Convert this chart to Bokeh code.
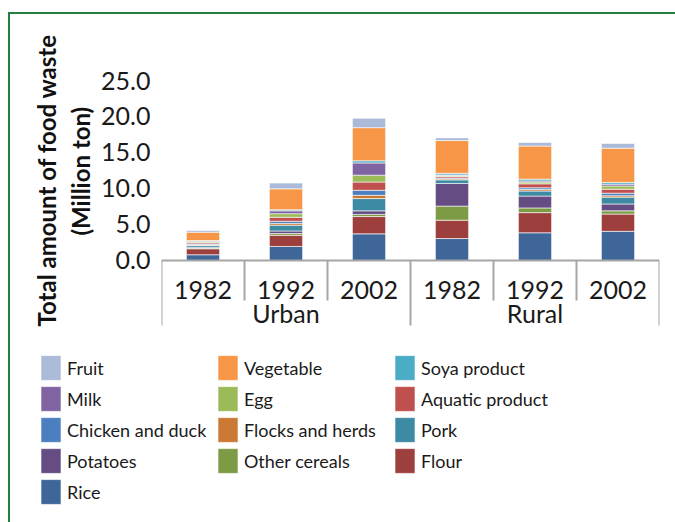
from bokeh.plotting import figure
from bokeh.models import (FactorRange, Range1d, FixedTicker, Legend, LegendItem,
                          ColumnDataSource, PrintfTickFormatter, Span, Title)
from bokeh.core.properties import value
from bokeh.embed import file_html
from bokeh.resources import INLINE

# ---------------- data ----------------
groups = ["Urban", "Rural"]
years = ["1982", "1992", "2002"]
factors = [(g, y) for g in groups for y in years]

# stack order bottom -> top
series = ["Rice", "Flour", "Other cereals", "Potatoes", "Pork", "Flocks and herds",
          "Chicken and duck", "Aquatic product", "Egg", "Milk", "Soya product",
          "Vegetable", "Fruit"]

rice          = [0.80, 1.95, 3.70, 3.05, 3.85, 4.05]
flour         = [0.83, 1.55, 2.40, 2.55, 2.80, 2.40]
other_cereals = [0.10, 0.25, 0.30, 1.95, 0.65, 0.45]
potatoes      = [0.12, 0.35, 0.50, 3.15, 1.65, 0.95]
pork          = [0.25, 0.80, 1.70, 0.50, 0.70, 0.95]
flocks        = [0.08, 0.25, 0.45, 0.15, 0.20, 0.20]
chicken       = [0.10, 0.30, 0.70, 0.12, 0.25, 0.35]
aquatic       = [0.18, 0.55, 1.15, 0.20, 0.55, 0.55]
egg           = [0.13, 0.50, 0.95, 0.12, 0.25, 0.45]
milk          = [0.10, 0.40, 1.70, 0.10, 0.15, 0.25]
soya          = [0.08, 0.15, 0.30, 0.22, 0.25, 0.25]
vegetable     = [1.16, 2.90, 4.60, 4.55, 4.60, 4.75]
fruit         = [0.23, 0.80, 1.30, 0.37, 0.50, 0.65]

values = [rice, flour, other_cereals, potatoes, pork, flocks, chicken,
          aquatic, egg, milk, soya, vegetable, fruit]

colors = ["#3e6699", "#9d3f3d", "#7d9a44", "#654d84", "#3c8aa4", "#cb7934",
          "#4c7fbf", "#c0504d", "#9bbb59", "#8064a2", "#4bacc6", "#f79646",
          "#aabad8"]

y_ticks = [0, 5, 10, 15, 20, 25]
y_title_lines = ["Total amount of food waste", "(Million ton)"]

# category boundaries (factor, offset) for the Excel-like separators
short_marks = [(g, y, -0.5) for g in groups for y in years if y != years[0]]
tall_marks = [(g, years[0], -0.5) for g in groups] + [(groups[-1], years[-1], 0.5)]

FONT = "Lato"
TXT = "#1a1a1a"
AXIS_GREY = "#a6a6a6"
GREEN = "#23803d"

# layout constants (data units below zero hold the category labels)
Y_BOTTOM = -10.14
YEAR_Y = -4.15
GROUP_Y = -7.25
SHORT_END = -5.56
TALL_END = -9.03

# ---------------- chart ----------------
data = {"x": factors}
for name, vals in zip(series, values):
    data[name] = vals
source = ColumnDataSource(data=data)

x_range = FactorRange(*factors, group_padding=0, factor_padding=0, range_padding=0)
y_range = Range1d(Y_BOTTOM, 25)

p = figure(x_range=x_range, y_range=y_range, width=667, height=321,
           output_backend="svg", toolbar_location=None, x_axis_location=None,
           min_border_left=153, min_border_right=16, min_border_top=68,
           min_border_bottom=0)
p.margin = (12, 0, 0, 8)
p.styles = {"box-shadow": f"inset 2px 2px 0 0 {GREEN}"}
p.border_fill_color = None
p.background_fill_color = None
p.outline_line_color = None
p.xgrid.visible = False
p.ygrid.visible = False

renderers = p.vbar_stack(series, x="x", width=0.4, source=source,
                         fill_color=colors, line_color="white", line_width=0.6)

# category axis line, separators and labels
p.add_layout(Span(location=0, dimension="width", line_color=AXIS_GREY, line_width=2))
sep_src = ColumnDataSource(data=dict(
    x=[list(m) for m in short_marks] + [list(m) for m in tall_marks],
    y0=[0] * (len(short_marks) + len(tall_marks)),
    y1=[SHORT_END] * len(short_marks) + [TALL_END] * len(tall_marks),
))
p.segment(x0="x", y0="y0", x1="x", y1="y1", source=sep_src,
          line_color=AXIS_GREY, line_width=2)

year_src = ColumnDataSource(data=dict(x=factors, y=[YEAR_Y] * len(factors),
                                      t=[f[1] for f in factors]))
p.text(x="x", y="y", text="t", source=year_src, text_align="center",
       text_baseline="middle", text_font=value(FONT), text_font_size="25px",
       text_color=TXT)
group_src = ColumnDataSource(data=dict(x=groups, y=[GROUP_Y] * len(groups), t=groups))
p.text(x="x", y="y", text="t", source=group_src, text_align="center",
       text_baseline="middle", text_font=value(FONT), text_font_size="25px",
       text_color=TXT)

# y axis
ya = p.yaxis[0]
ya.ticker = FixedTicker(ticks=y_ticks)
ya.formatter = PrintfTickFormatter(format="%.1f")
ya.axis_line_color = None
ya.major_tick_line_color = None
ya.major_tick_out = 0
ya.major_tick_in = 0
ya.minor_tick_line_color = None
ya.major_label_standoff = 11
ya.major_label_text_font = FONT
ya.major_label_text_font_size = "25px"
ya.major_label_text_color = TXT

# y axis title: two centred lines, placed as left-side titles
p.add_layout(Title(text=y_title_lines[1], align="left", offset=98, standoff=6,
                   vertical_align="middle", text_font=FONT, text_font_size="24px",
                   text_font_style="bold", text_color="#111111"), "left")
p.add_layout(Title(text=y_title_lines[0], align="left", offset=7, standoff=0,
                   vertical_align="middle", text_font=FONT, text_font_size="24px",
                   text_font_style="bold", text_color="#111111"), "left")

# ---------------- legend panel ----------------
lg = figure(width=667, height=189, x_range=Range1d(0, 667), y_range=Range1d(0, 189),
            output_backend="svg", toolbar_location=None,
            x_axis_location=None, y_axis_location=None, min_border=0)
lg.margin = (0, 0, 0, 8)
lg.styles = {"box-shadow": f"inset 2px 0 0 0 {GREEN}"}
lg.border_fill_color = None
lg.background_fill_color = None
lg.outline_line_color = None
lg.xgrid.visible = False
lg.ygrid.visible = False

swatches = []
for name, c in zip(series, colors):
    swatches.append(lg.vbar(x=[-50], top=[0], width=1, fill_color=c,
                            line_color="white", line_width=0.6))

items = [LegendItem(label=n, renderers=[r]) for n, r in zip(series, swatches)][::-1]
legend = Legend(items=items, location=(30, 15), orientation="horizontal",
                ncols=3, glyph_width=25, glyph_height=31, spacing=0,
                label_standoff=4, label_width=148, label_height=20,
                label_text_font=FONT, label_text_font_size="18px",
                label_text_color=TXT, padding=10, margin=0,
                border_line_color=None, background_fill_alpha=0)
lg.add_layout(legend, "center")

open("out.html", "w").write(file_html([p, lg], INLINE))
